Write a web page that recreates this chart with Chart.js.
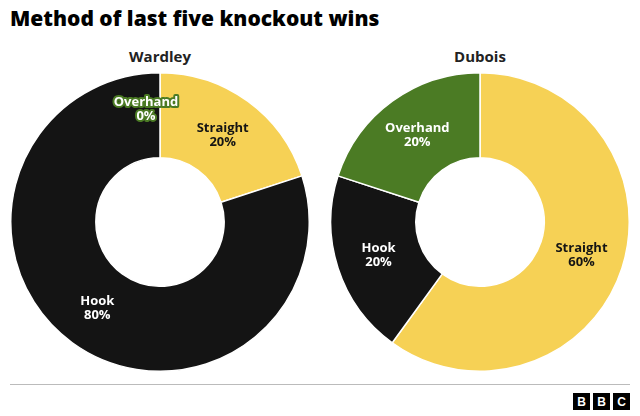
<!DOCTYPE html>
<html>
<head>
<meta charset="utf-8">
<script src="https://cdn.jsdelivr.net/npm/chart.js@4"></script>
<style>
  body { margin: 0; width: 640px; height: 416px; background: #fff; font-family: "Open Sans", sans-serif; position: relative; overflow: hidden; }
  h1 { position: absolute; left: 10px; top: 4px; margin: 0; font-size: 21px; font-weight: 800; color: #000; }
  .sub { position: absolute; top: 46px; width: 320px; text-align: center; font-size: 15px; font-weight: 700; color: #222; }
  .box { position: absolute; top: 70px; width: 320px; height: 304px; }
  .rule { position: absolute; left: 10px; right: 10px; top: 384px; border-top: 1px solid #bbb; }
  .bbc { position: absolute; right: 10px; top: 393px; display: flex; gap: 3px; }
  .bbc span { width: 17px; height: 17px; background: #000; color: #fff; font: 700 12px "Liberation Sans", sans-serif; display: flex; align-items: center; justify-content: center; }
</style>
</head>
<body>
<h1>Method of last five knockout wins</h1>
<div class="sub" style="left:0">Wardley</div>
<div class="sub" style="left:320px">Dubois</div>
<div class="box" style="left:0"><canvas id="c1"></canvas></div>
<div class="box" style="left:320px"><canvas id="c2"></canvas></div>
<div class="rule"></div>
<div class="bbc"><span>B</span><span>B</span><span>C</span></div>
<script>
// --- Datos ---
const categories = ['Straight', 'Hook', 'Overhand'];
const wardleyValues = [20, 80, 0];
const duboisValues = [60, 20, 20];
const colors = ['#f6d155', '#141414', '#4b7b24'];
const textColors = ['#141414', '#ffffff', '#ffffff'];

// Etiquetas dentro de cada segmento
const sliceLabels = {
    id: 'sliceLabels',
    afterDatasetsDraw(chart) {
        const ctx = chart.ctx;
        const meta = chart.getDatasetMeta(0);
        const data = chart.data.datasets[0].data;
        ctx.save();
        ctx.font = '700 13px "Open Sans", sans-serif';
        ctx.textAlign = 'center';
        ctx.textBaseline = 'middle';
        meta.data.forEach((arc, i) => {
            const p = arc.tooltipPosition();
            let x = p.x, y = p.y;
            const lines = [categories[i], data[i] + '%'];
            if (data[i] === 0) {
                x -= 14; y -= 6;
                ctx.lineJoin = 'round';
                ctx.lineWidth = 4;
                ctx.strokeStyle = colors[i];
                lines.forEach((t, k) => ctx.strokeText(t, x, y - 7 + k * 14));
                ctx.fillStyle = '#fff';
            } else {
                ctx.fillStyle = textColors[i];
            }
            lines.forEach((t, k) => ctx.fillText(t, x, y - 7 + k * 14));
        });
        ctx.restore();
    }
};

function makeChart(id, values) {
    new Chart(document.getElementById(id), {
        type: 'doughnut',
        data: {
            labels: categories,
            datasets: [{
                data: values,
                backgroundColor: colors,
                borderColor: '#ffffff',
                borderWidth: 1.5
            }]
        },
        options: {
            responsive: true,
            maintainAspectRatio: false,
            animation: false,
            cutout: '43%',
            layout: { padding: 2 },
            plugins: { legend: { display: false }, tooltip: { enabled: false } }
        },
        plugins: [sliceLabels]
    });
}

makeChart('c1', wardleyValues);
makeChart('c2', duboisValues);
</script>
</body>
</html>
